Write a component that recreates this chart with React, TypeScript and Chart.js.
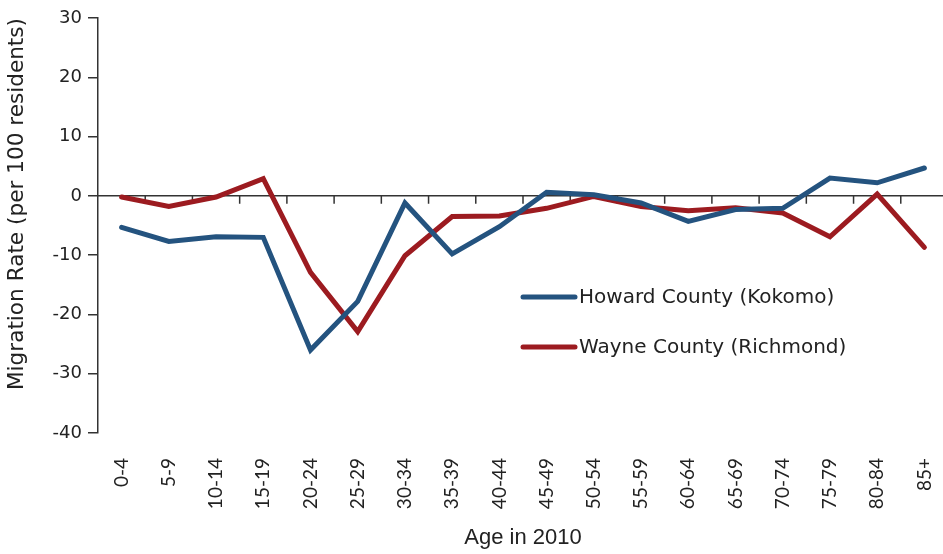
import { useEffect, useRef } from "react";
import { Chart, registerables } from "chart.js";

Chart.register(...registerables);

const ageGroups = [
  "0-4", "5-9", "10-14", "15-19", "20-24", "25-29", "30-34", "35-39", "40-44",
  "45-49", "50-54", "55-59", "60-64", "65-69", "70-74", "75-79", "80-84", "85+",
];
const howardCounty = [
  -5.3, -7.7, -6.9, -7.0, -26.0, -17.8, -1.2, -9.8, -5.2,
  0.6, 0.2, -1.2, -4.3, -2.3, -2.1, 3.0, 2.2, 4.7,
];
const wayneCounty = [
  -0.2, -1.8, -0.2, 2.9, -12.9, -22.9, -10.1, -3.5, -3.4,
  -2.1, -0.1, -1.8, -2.5, -2.0, -2.9, -6.9, 0.3, -8.7,
];
const seriesNames = ["Howard County (Kokomo)", "Wayne County (Richmond)"];
const yMin = -40;
const yMax = 30;
const yStep = 10;

const BLUE = "#24537f";
const RED = "#9c1b20";
const AXIS = "#333333";
const TEXT = "#222222";

const zeroLinePlugin = {
  id: "zeroLine",
  beforeDatasetsDraw(chart: any) {
    const { ctx, chartArea, scales } = chart;
    const x = scales.x;
    const y = scales.y;
    const y0 = y.getPixelForValue(0);
    ctx.save();
    ctx.strokeStyle = AXIS;
    ctx.lineWidth = 1.5;
    ctx.beginPath();
    ctx.moveTo(chartArea.left, y0);
    ctx.lineTo(chartArea.right, y0);
    for (let i = 0; i < ageGroups.length - 1; i++) {
      const bx = (x.getPixelForValue(i) + x.getPixelForValue(i + 1)) / 2;
      ctx.moveTo(bx, y0);
      ctx.lineTo(bx, y0 + 8);
    }
    ctx.stroke();
    ctx.restore();
  },
};

const legendPlugin = {
  id: "insideLegend",
  afterDatasetsDraw(chart: any) {
    const { ctx } = chart;
    const startX = 523;
    const startY = 297;
    const gap = 50;
    const lineLen = 52;
    ctx.save();
    ctx.font = "20px 'DejaVu Sans'";
    ctx.textBaseline = "middle";
    ctx.textAlign = "left";
    chart.data.datasets.forEach((ds: any, i: number) => {
      const yy = startY + i * gap;
      ctx.strokeStyle = ds.borderColor;
      ctx.lineWidth = 5;
      ctx.lineCap = "round";
      ctx.beginPath();
      ctx.moveTo(startX, yy);
      ctx.lineTo(startX + lineLen, yy);
      ctx.stroke();
      ctx.fillStyle = TEXT;
      ctx.fillText(ds.label, startX + lineLen + 4, yy + 1);
    });
    ctx.restore();
  },
};

export default function App() {
  const canvasRef = useRef<HTMLCanvasElement | null>(null);

  useEffect(() => {
    document.body.style.margin = "0";
    document.body.style.overflow = "hidden";
    document.documentElement.style.overflow = "hidden";
    const canvas = canvasRef.current;
    if (!canvas) return;
    const chart = new Chart(canvas, {
      type: "line",
      data: {
        labels: ageGroups,
        datasets: [
          {
            label: seriesNames[0],
            data: howardCounty,
            borderColor: BLUE,
            backgroundColor: BLUE,
            borderWidth: 5,
            pointRadius: 0,
            pointHoverRadius: 0,
            tension: 0,
            borderCapStyle: "round",
            borderJoinStyle: "miter",
          },
          {
            label: seriesNames[1],
            data: wayneCounty,
            borderColor: RED,
            backgroundColor: RED,
            borderWidth: 5,
            pointRadius: 0,
            pointHoverRadius: 0,
            tension: 0,
            borderCapStyle: "round",
            borderJoinStyle: "miter",
          },
        ],
      },
      options: {
        animation: false,
        responsive: false,
        maintainAspectRatio: false,
        layout: { padding: { top: 18, left: 0, right: 0, bottom: 0 } },
        plugins: {
          legend: { display: false },
          tooltip: { enabled: false },
        },
        scales: {
          x: {
            type: "category",
            offset: true,
            border: { display: false },
            grid: { display: false, drawTicks: false },
            ticks: {
              minRotation: 90,
              maxRotation: 90,
              autoSkip: false,
              padding: 25,
              color: TEXT,
              font: { family: "Lato", size: 19 },
            },
            title: {
              display: true,
              text: "Age in 2010",
              color: TEXT,
              font: { family: "'Liberation Sans'", size: 22 },
              padding: { top: 0, bottom: 3 },
            },
            afterFit(scale: any) {
              scale.height = 121;
              scale.paddingLeft = 0;
              scale.paddingRight = 0;
            },
          },
          y: {
            min: yMin,
            max: yMax,
            border: { display: true, color: AXIS, width: 1.5 },
            grid: {
              drawOnChartArea: false,
              drawTicks: true,
              tickLength: 10,
              color: AXIS,
              lineWidth: 1.5,
            },
            ticks: {
              stepSize: yStep,
              padding: 6,
              color: TEXT,
              font: { family: "'DejaVu Sans'", size: 18 },
            },
            title: {
              display: true,
              text: "Migration Rate (per 100 residents)",
              align: "end",
              color: TEXT,
              font: { family: "'DejaVu Sans'", size: 21.6 },
              padding: { top: 4, bottom: 0 },
            },
            afterFit(scale: any) {
              scale.width = 98;
            },
          },
        },
      },
      plugins: [zeroLinePlugin, legendPlugin],
    });
    return () => chart.destroy();
  }, []);

  return (
    <div style={{ width: 948, height: 554, background: "#fff" }}>
      <canvas ref={canvasRef} width={948} height={554} style={{ display: "block" }} />
    </div>
  );
}
